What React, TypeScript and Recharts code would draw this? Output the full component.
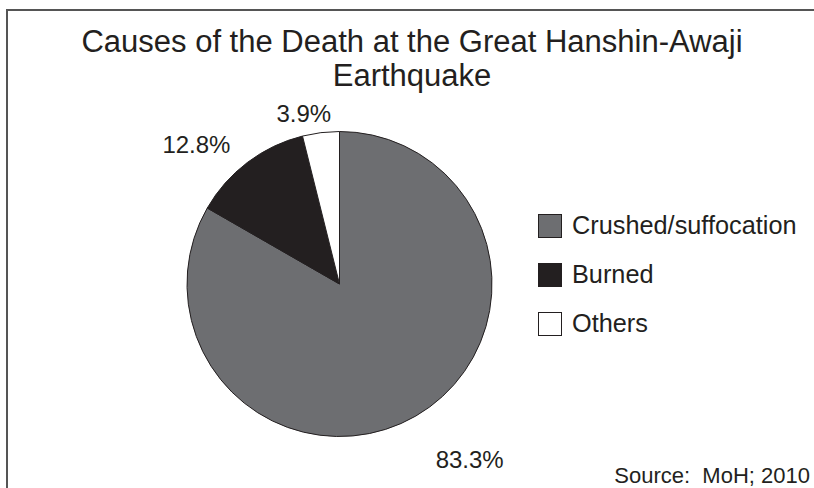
import React from "react";
import { PieChart, Pie, Cell, Legend } from "recharts";

const causes = ["Crushed/suffocation", "Burned", "Others"];
const shares = [83.3, 12.8, 3.9];
const fills = ["#6d6e71", "#231f20", "#ffffff"];

const titleLines = ["Causes of the Death at the Great Hanshin-Awaji", "Earthquake"];
const sourceNote = "Source:  MoH; 2010";

// label distance from centre and small angular nudge, per slice
const labelPlacement = [
  { r: 218, shift: 6.6 },
  { r: 200, shift: 8.6 },
  { r: 174, shift: 4.8 },
];

const data = causes.map((name, i) => ({ name, value: shares[i] }));

const FONT = '"Liberation Sans", Arial, Helvetica, sans-serif';
const INK = "#231f20";
const RAD = Math.PI / 180;

function SliceLabel(props: any) {
  const { cx, cy, midAngle, index, value } = props;
  const p = labelPlacement[index];
  const a = (midAngle + p.shift) * RAD;
  const x = cx + p.r * Math.cos(a);
  const y = cy - p.r * Math.sin(a);
  return (
    <text x={x} y={y} dy="0.36em" textAnchor="middle" fill={INK} fontSize={24} fontFamily={FONT}>
      {`${value}%`}
    </text>
  );
}

function LegendBox(props: any) {
  // keep the series order, not alphabetical
  const items = [...(props.payload || [])].sort(
    (a: any, b: any) => causes.indexOf(a.value) - causes.indexOf(b.value)
  );
  return (
    <div style={{ fontFamily: FONT, fontSize: 25.3, color: INK }}>
      {items.map((entry: any, i: number) => (
        <div key={i} style={{ display: "flex", alignItems: "center", height: 25, marginBottom: 24 }}>
          <span
            style={{
              display: "inline-block",
              width: 22,
              height: 22,
              background: fills[causes.indexOf(entry.value)],
              border: `1.5px solid ${INK}`,
              marginRight: 10,
            }}
          />
          <span style={{ lineHeight: "25px" }}>{entry.value}</span>
        </div>
      ))}
    </div>
  );
}

export default function App() {
  return (
    <div
      style={{
        position: "absolute",
        left: 0,
        top: 0,
        width: 814,
        height: 488,
        background: "#fff",
        overflow: "hidden",
        fontFamily: FONT,
        color: INK,
      }}
    >
      {/* frame: only top and left edges show */}
      <div
        style={{
          position: "absolute",
          left: 6,
          top: 9,
          width: 820,
          height: 490,
          borderTop: "2px solid #555",
          borderLeft: "2px solid #555",
        }}
      />
      <div
        style={{
          position: "absolute",
          left: 62,
          top: 25,
          width: 700,
          textAlign: "center",
          fontSize: 31,
          lineHeight: "34px",
        }}
      >
        {titleLines.map((t) => (
          <div key={t}>{t}</div>
        ))}
      </div>
      <div style={{ position: "absolute", left: 0, top: 0 }}>
        <PieChart width={814} height={488} margin={{ top: 0, right: 0, bottom: 0, left: 0 }}>
          <Pie
            data={data}
            dataKey="value"
            nameKey="name"
            cx={339.5}
            cy={284}
            outerRadius={152.5}
            startAngle={90}
            endAngle={-270}
            stroke={INK}
            strokeWidth={1}
            label={SliceLabel}
            labelLine={false}
            isAnimationActive={false}
          >
            {data.map((d, i) => (
              <Cell key={d.name} fill={fills[i]} />
            ))}
          </Pie>
          <Legend
            layout="vertical"
            align="right"
            verticalAlign="top"
            content={LegendBox}
            wrapperStyle={{ position: "absolute", left: 538, top: 213, width: 270 }}
          />
        </PieChart>
      </div>
      <div
        style={{
          position: "absolute",
          right: 4,
          top: 463,
          fontSize: 22,
          lineHeight: "26px",
          whiteSpace: "pre",
        }}
      >
        {sourceNote}
      </div>
    </div>
  );
}
